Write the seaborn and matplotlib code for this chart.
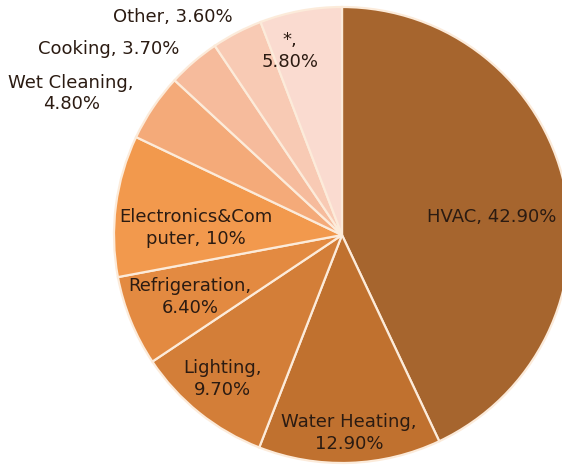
import numpy as np
import seaborn as sns
import matplotlib.pyplot as plt

categories = ["HVAC", "Water Heating", "Lighting", "Refrigeration", "Electronics&Computer",
              "Wet Cleaning", "Cooking", "Other", "*"]
shares = [42.9, 12.9, 9.7, 6.4, 10.0, 4.8, 3.7, 3.6, 5.8]
label_texts = ["HVAC, 42.90%", "Water Heating,\n12.90%", "Lighting,\n9.70%",
               "Refrigeration,\n6.40%", "Electronics&Com\nputer, 10%", "Wet Cleaning,\n4.80%",
               "Cooking, 3.70%", "Other, 3.60%", "*,\n5.80%"]
colors = ["#A6652E", "#C0712F", "#D37E38", "#E38A41", "#F2994D",
          "#F4AA79", "#F6BB9C", "#F8CAB4", "#FADBD0"]

# label placement: radius factor and angle nudge (deg) per slice
label_r = [0.66, 0.87, 0.82, 0.72, 0.64, 1.34, 1.31, 1.21, 0.84]
label_da = [-5.7, 0, -1, 0, 4.6, 6.5, 10.9, 10.3, 5.2]

sns.set_theme(style="white")
plt.rcParams["font.family"] = ["DejaVu Sans"]

fig = plt.figure(figsize=(5.62, 4.68), dpi=100)
ax = fig.add_axes([0, 0, 1, 1])
wedges, _ = ax.pie(shares, colors=colors, startangle=90, counterclock=False,
                   wedgeprops=dict(edgecolor="#FCEBDA", linewidth=1.6))

for w, txt, r, da in zip(wedges, label_texts, label_r, label_da):
    mid = np.deg2rad((w.theta1 + w.theta2) / 2 + da)
    ax.text(r * np.cos(mid), r * np.sin(mid), txt, ha="center", va="center",
            fontsize=13, color="#2B1B12", linespacing=1.28)

scale = 228.0
ax.set_aspect("auto")
ax.set_xlim(-342 / scale, (562 - 342) / scale)
ax.set_ylim(-(468 - 235) / scale, 235 / scale)
ax.axis("off")
fig.savefig("out.png", dpi=100)
